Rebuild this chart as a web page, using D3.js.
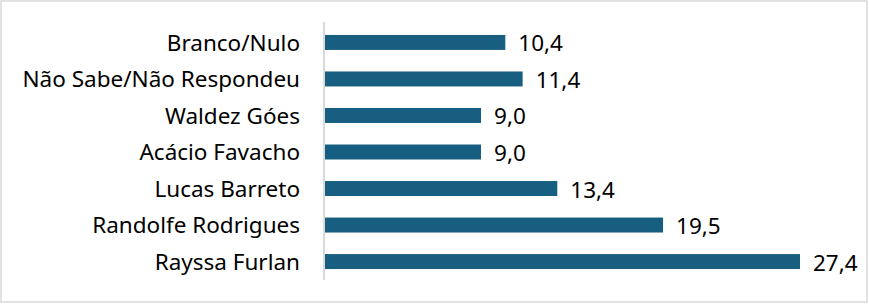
<!DOCTYPE html>
<html>
<head>
<meta charset="utf-8">
<script src="https://cdn.jsdelivr.net/npm/d3@7"></script>
<style>
  body { margin: 0; background: #fff; }
  text { font-family: "Noto Sans", sans-serif; fill: #000; }
</style>
</head>
<body>
<script>
// data
let categories = ["Branco/Nulo", "Não Sabe/Não Respondeu", "Waldez Góes", "Acácio Favacho",
                  "Lucas Barreto", "Randolfe Rodrigues", "Rayssa Furlan"];
let values = [10.4, 11.4, 9.0, 9.0, 13.4, 19.5, 27.4];

let w = 869, h = 304;
let margin = {top: 24, right: 40, bottom: 24, left: 325};
let fontSize = "22.5px";

let svg = d3.select("body").append("svg")
  .attr("width", w)
  .attr("height", h);

// outer frame
svg.append("rect")
  .attr("x", 1).attr("y", 1)
  .attr("width", w - 3).attr("height", h - 3)
  .attr("fill", "none")
  .attr("stroke", "#d9d9d9")
  .attr("stroke-width", 1.5);

let xScale = d3.scaleLinear().domain([0, 27.4]).range([margin.left, 800]);
let yScale = d3.scaleBand().domain(categories)
  .range([margin.top, 280]).paddingInner(0.59).paddingOuter(0.3);

// category axis
let yAxis = svg.append("g")
  .attr("transform", "translate(" + (margin.left - 1) + ",0)")
  .call(d3.axisLeft(yScale).tickSize(0).tickPadding(24));
yAxis.select(".domain").attr("stroke", "#d9d9d9").attr("stroke-width", 2)
  .attr("d", "M0,22V280");
yAxis.selectAll("text")
  .attr("font-size", fontSize)
  .attr("font-family", "Noto Sans, sans-serif")
  .attr("dy", "0.37em")
  .attr("fill", "#000");

let bars = svg.selectAll(".bar").data(categories).enter().append("g");

bars.append("rect")
  .attr("class", "bar")
  .attr("x", xScale(0))
  .attr("y", function (d) { return yScale(d); })
  .attr("width", function (d, i) { return xScale(values[i]) - xScale(0); })
  .attr("height", yScale.bandwidth())
  .attr("fill", "#175e80");

bars.append("text")
  .text(function (d, i) { return values[i].toFixed(1).replace(".", ","); })
  .attr("x", function (d, i) { return xScale(values[i]) + 13; })
  .attr("y", function (d) { return yScale(d) + yScale.bandwidth() / 2; })
  .attr("dy", "0.4em")
  .attr("font-size", fontSize);
</script>
</body>
</html>
